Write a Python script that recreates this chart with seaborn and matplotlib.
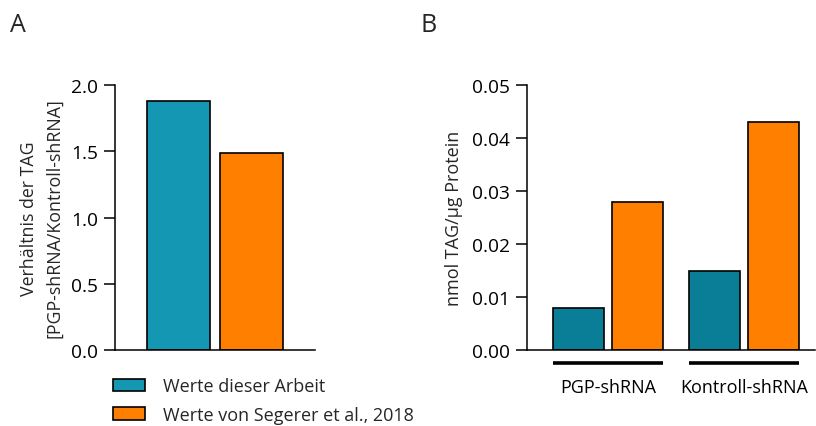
import matplotlib
matplotlib.use("Agg")
import matplotlib.pyplot as plt
import matplotlib.transforms as mtransforms
import pandas as pd
import seaborn as sns

# Data
sources = ["Werte dieser Arbeit", "Werte von Segerer et al., 2018"]
ratio_values = [1.88, 1.49]              # panel A: PGP-shRNA / Kontroll-shRNA
conditions = ["PGP-shRNA", "Kontroll-shRNA"]
tag_this_work = [0.008, 0.015]           # panel B, nmol TAG/µg protein
tag_segerer = [0.028, 0.043]

teal_a = "#1497B2"
teal_b = "#0A7E96"
orange = "#FF8000"

sns.set_theme(style="ticks")
plt.rcParams["font.family"] = ["Open Sans", "DejaVu Sans"]
plt.rcParams["axes.linewidth"] = 1.1

fig = plt.figure(figsize=(8.16, 4.27), dpi=100)
W, H = 816, 427


def axes_px(left, right, top, bottom):
    return fig.add_axes([left / W, 1 - bottom / H, (right - left) / W, (bottom - top) / H])


axA = axes_px(115, 315, 86, 351)
axB = axes_px(527, 815, 86, 351)

# Panel A
dfA = pd.DataFrame({"grp": ["ratio", "ratio"], "source": sources, "value": ratio_values})
sns.barplot(data=dfA, x="grp", y="value", hue="source", hue_order=sources,
            palette=[teal_a, orange], width=0.8, gap=0.14, edgecolor="black",
            linewidth=1.2, saturation=1, legend=False, ax=axA)
axA.set_ylim(0, 2.0)
axA.set_xlim(-0.55, 0.55)
axA.set_yticks([0, 0.5, 1.0, 1.5, 2.0])
axA.set_yticklabels(["0.0", "0.5", "1.0", "1.5", "2.0"])
axA.set_xticks([])
axA.set_xlabel("")
axA.set_ylabel("Verhältnis der TAG\n[PGP-shRNA/Kontroll-shRNA]", fontsize=12.8,
               linespacing=1.5, labelpad=6)

# Panel B
dfB = pd.DataFrame({
    "condition": conditions * 2,
    "source": [sources[0]] * 2 + [sources[1]] * 2,
    "value": tag_this_work + tag_segerer,
})
sns.barplot(data=dfB, x="condition", y="value", hue="source", order=conditions,
            hue_order=sources, palette=[teal_b, orange], width=0.868, gap=0.136,
            edgecolor="black", linewidth=1.2, saturation=1, legend=False, ax=axB)
axB.set_ylim(0, 0.05)
axB.set_xlim(-0.596, 1.522)
axB.set_yticks([0, 0.01, 0.02, 0.03, 0.04, 0.05])
axB.set_yticklabels(["0.00", "0.01", "0.02", "0.03", "0.04", "0.05"])
axB.set_xlabel("")
axB.set_ylabel("nmol TAG/µg Protein", fontsize=13, labelpad=7)
axB.tick_params(axis="x", length=0, pad=20, labelsize=13)

# Group bars under each condition
half_span = 0.868 * (1 - 0.136 / 2) / 2
trans = mtransforms.blended_transform_factory(axB.transData, axB.transAxes)
for i, _ in enumerate(conditions):
    axB.plot([i - half_span, i + half_span], [-0.049, -0.049], color="black",
             lw=2.6, transform=trans, clip_on=False, solid_capstyle="butt")

for ax in (axA, axB):
    sns.despine(ax=ax)
    ax.tick_params(axis="y", length=8, width=1.1, pad=4, labelsize=13.8, colors="black")
    ax.tick_params(axis="x", colors="black")
    for s in ("left", "bottom"):
        ax.spines[s].set_color("black")

fig.text(18 / W, 1 - 26 / H, "A", fontsize=18, ha="center", va="center")
fig.text(429 / W, 1 - 26 / H, "B", fontsize=18, ha="center", va="center")

handles = [c[0] for c in axA.containers]
fig.legend(handles, sources, loc="upper left", bbox_to_anchor=(113 / W, 1 - 378 / H),
           frameon=False, fontsize=13, handlelength=1.75, handleheight=0.65,
           handletextpad=1.0, labelspacing=0.6, borderpad=0, borderaxespad=0)

fig.savefig("out.png", dpi=100)
